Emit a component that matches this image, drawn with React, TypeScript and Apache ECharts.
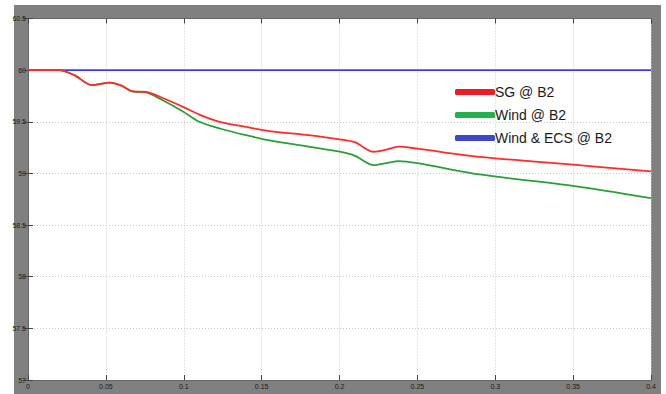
import React, { useEffect, useRef } from "react";
import * as echarts from "echarts";

const timeS = [0, 0.02, 0.03, 0.041, 0.0526, 0.06, 0.067, 0.076, 0.085, 0.0995, 0.11, 0.123, 0.14, 0.155, 0.18, 0.2, 0.21, 0.222, 0.23, 0.238, 0.25, 0.29, 0.35, 0.4];
const sgB2 = [60, 60, 59.95, 59.855, 59.88, 59.85, 59.795, 59.79, 59.74, 59.645, 59.57, 59.5, 59.45, 59.41, 59.37, 59.33, 59.3, 59.21, 59.23, 59.26, 59.24, 59.16, 59.085, 59.02];
const windB2 = [60, 60, 59.95, 59.855, 59.88, 59.85, 59.795, 59.785, 59.72, 59.6, 59.5, 59.435, 59.37, 59.32, 59.26, 59.21, 59.17, 59.08, 59.1, 59.12, 59.1, 58.99, 58.88, 58.76];
const windEcsB2 = [60, 60, 60, 60, 60, 60, 60, 60, 60, 60, 60, 60, 60, 60, 60, 60, 60, 60, 60, 60, 60, 60, 60, 60];

const seriesNames = ["SG @ B2", "Wind @ B2", "Wind & ECS @ B2"];
const lineColors = ["#ff2a2a", "#2a9f38", "#3b3bff"];
const legendColors = ["#ed1c24", "#22b14c", "#3f48cc"];

export default function App() {
  const ref = useRef<HTMLDivElement>(null);
  useEffect(() => {
    if (!ref.current) return;
    const chart = echarts.init(ref.current, undefined, { renderer: "svg" });
    const toPts = (ys: number[]) => timeS.map((t, i) => [t, ys[i]]);
    const valuesList = [sgB2, windB2, windEcsB2];
    const labelStyle = { fontSize: 7, color: "#1a1a1a", fontFamily: "Liberation Sans" };
    const tick = { show: true, inside: true, length: 5, lineStyle: { color: "#444" } };
    const axisLine = { show: true, lineStyle: { color: "#666", width: 1 } };
    const series: any[] = [2, 1, 0].map((i) => ({
      name: seriesNames[i],
      type: "line",
      data: toPts(valuesList[i]),
      showSymbol: false,
      smooth: 0.3,
      lineStyle: { color: lineColors[i], width: 1.8 },
      itemStyle: { color: lineColors[i] },
      z: 3 + (2 - i),
    }));
    chart.setOption({
      animation: false,
      backgroundColor: "#ffffff",
      graphic: [
        {
          type: "rect",
          z: -10,
          silent: true,
          shape: { x: 14, y: 5, width: 647, height: 394 },
          style: { fill: "#808080" },
        },
      ],
      grid: {
        left: 28,
        top: 18.5,
        right: 15,
        bottom: 14,
        show: true,
        backgroundColor: "#ffffff",
        borderColor: "#666",
        borderWidth: 0,
      },
      legend: {
        orient: "vertical",
        left: 450,
        top: 80,
        itemWidth: 40,
        itemHeight: 6,
        itemGap: 9,
        icon: "roundRect",
        textStyle: { fontSize: 14, color: "#1a1a1a", fontFamily: "Liberation Sans", padding: [0, 0, 0, -5] },
        data: seriesNames.map((n, i) => ({ name: n, itemStyle: { color: legendColors[i] } })),
      },
      xAxis: [
        {
          type: "value",
          min: 0,
          max: 0.4,
          interval: 0.05,
          axisLine,
          axisTick: tick,
          axisLabel: { ...labelStyle, margin: 3 },
          splitLine: { show: true, lineStyle: { color: "#c8c8c8", type: [1, 2], width: 1 } },
        },
        {
          type: "value",
          position: "top",
          min: 0,
          max: 0.4,
          interval: 0.05,
          axisLine,
          axisTick: tick,
          axisLabel: { show: false },
          splitLine: { show: false },
        },
      ],
      yAxis: [
        {
          type: "value",
          min: 57,
          max: 60.5,
          interval: 0.5,
          axisLine,
          axisTick: tick,
          axisLabel: { ...labelStyle, margin: 2 },
          splitLine: { show: true, lineStyle: { color: "#c8c8c8", type: [1, 2], width: 1 } },
        },
        {
          type: "value",
          position: "right",
          min: 57,
          max: 60.5,
          interval: 0.5,
          axisLine,
          axisTick: tick,
          axisLabel: { show: false },
          splitLine: { show: false },
        },
      ],
      series,
    });
    return () => chart.dispose();
  }, []);
  return <div ref={ref} style={{ position: "absolute", left: 0, top: 0, width: 666, height: 394 }} />;
}
